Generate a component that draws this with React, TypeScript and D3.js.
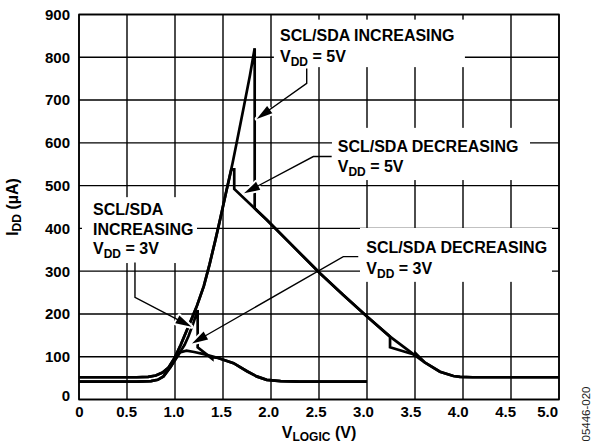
import React from "react";
import * as d3 from "d3";

// ---------- data (V_LOGIC in volts, I_DD in µA) ----------
const X_TICKS = [0, 0.5, 1.0, 1.5, 2.0, 2.5, 3.0, 3.5, 4.0, 4.5, 5.0];
const X_LABELS = ["0", "0.5", "1.0", "1.5", "2.0", "2.5", "3.0", "3.5", "4.0", "4.5", "5.0"];
const Y_TICKS = [0, 100, 200, 300, 400, 500, 600, 700, 800, 900];

const INC_5V: [number, number][] = [
  [0, 52], [0.6, 52], [0.72, 53], [0.8, 56], [0.87, 63], [0.93, 74], [1.0, 99], [1.06, 128],
  [1.12, 160], [1.18, 192], [1.23, 220], [1.3, 265], [1.36, 316], [1.42, 372], [1.47, 421],
  [1.53, 482], [1.6, 553], [1.66, 620], [1.72, 688], [1.78, 757], [1.83, 821],
  [1.83, 447], [1.955, 420], [2.2, 365], [2.51, 295], [2.75, 245], [3.0, 194], [3.24, 147],
  [3.24, 122], [3.505, 104], [3.505, 108], [3.6, 87], [3.76, 65], [3.9, 55], [3.97, 53],
  [4.1, 52], [5.0, 52],
];

const DEC_5V: [number, number][] = [
  [5.0, 52], [4.1, 52], [3.97, 53], [3.9, 55], [3.76, 65], [3.6, 87], [3.5, 103], [3.24, 147],
  [3.0, 194], [2.75, 245], [2.51, 295], [2.2, 365], [1.955, 420], [1.617, 492], [1.617, 538],
  [1.587, 538], [1.53, 482], [1.47, 421], [1.42, 372], [1.36, 316], [1.3, 265], [1.23, 220],
  [1.18, 192], [1.12, 160], [1.06, 128], [1.0, 99], [0.93, 74], [0.87, 63], [0.8, 56], [0.72, 53],
  [0.6, 52], [0, 52],
];

const INC_3V: [number, number][] = [
  [0, 42], [0.6, 42], [0.75, 43], [0.82, 46], [0.88, 54], [0.95, 75], [1.0, 92], [1.05, 110],
  [1.1, 128], [1.14, 148], [1.19, 178], [1.236, 209], [1.236, 122], [1.389, 95], [1.389, 99],
  [1.45, 97], [1.61, 85], [1.75, 66], [1.85, 54], [1.955, 46], [2.1, 43], [2.3, 42], [3.0, 42],
];

const DEC_3V: [number, number][] = [
  [3.0, 42], [2.3, 42], [2.1, 43], [1.955, 46], [1.85, 54], [1.75, 66], [1.61, 85], [1.45, 97],
  [1.3, 106], [1.2, 111], [1.12, 114], [1.05, 110], [1.0, 92], [0.95, 75], [0.88, 54],
  [0.82, 46], [0.75, 43], [0.6, 42], [0, 42],
];

// annotation leader lines (data coords), last point is the arrow tip
const LEADER_INC_5V: [number, number][] = [[2.372, 774], [2.372, 739], [1.851, 656]];
const LEADER_DEC_5V: [number, number][] = [[2.632, 568], [2.441, 568], [1.719, 482]];
const LEADER_DEC_3V: [number, number][] = [[2.909, 334], [2.753, 334], [1.177, 131]];
const LEADER_INC_3V: [number, number][] = [[0.583, 320], [0.583, 239], [1.172, 170]];

// white label backgrounds (data coords: x0, x1, yTop, yBottom)
const BOXES: [number, number, number, number][] = [
  [2.03, 4.02, 888, 777],
  [2.635, 4.698, 635, 513],
  [2.927, 4.927, 401, 275],
  [0.031, 1.229, 473, 319],
];

const W = 593;
const H = 447;
const FONT = "'Liberation Sans', Arial, Helvetica, sans-serif";

export default function App() {
  const x = d3.scaleLinear().domain([0, 5]).range([79, 559]);
  const y = d3.scaleLinear().domain([0, 900]).range([399.5, 14.5]);
  const xl = d3.scaleLinear().domain([0, 5]).range([79.3, 553]);

  const line = d3
    .line<[number, number]>()
    .x((d) => x(d[0]))
    .y((d) => y(d[1]));

  const curves = [INC_5V, DEC_5V, INC_3V, DEC_3V];
  const leaders = [LEADER_INC_5V, LEADER_DEC_5V, LEADER_DEC_3V, LEADER_INC_3V];

  const arrow = (pts: [number, number][], i: number) => {
    const p = pts.map((d) => [x(d[0]), y(d[1])]);
    const tip = p[p.length - 1];
    const prev = p[p.length - 2];
    const dx = tip[0] - prev[0];
    const dy = tip[1] - prev[1];
    const len = Math.hypot(dx, dy);
    const ux = dx / len;
    const uy = dy / len;
    const hl = 16;
    const hw = 4.5;
    const bx = tip[0] - ux * hl;
    const by = tip[1] - uy * hl;
    const poly = [
      [tip[0], tip[1]],
      [bx - uy * hw, by + ux * hw],
      [bx + uy * hw, by - ux * hw],
    ]
      .map((q) => q.join(","))
      .join(" ");
    const lp = p.slice(0, -1).concat([[bx + ux * 2, by + uy * 2]]);
    const d = "M" + lp.map((q) => q.join(",")).join("L");
    return (
      <g key={"a" + i}>
        <polygon points={poly} fill="white" stroke="white" strokeWidth={4} strokeLinejoin="round" />
        <path d={d} fill="none" stroke="#000" strokeWidth={1.4} />
        <polygon points={poly} fill="#000" />
      </g>
    );
  };

  const vdd = (px: number, py: number, val: string) => (
    <text x={px} y={py} fontSize={16}>
      V
      <tspan fontSize={12} dy={4}>
        DD
      </tspan>
      <tspan dy={-4}>{" = " + val}</tspan>
    </text>
  );

  return (
    <svg
      width={W}
      height={H}
      style={{ position: "absolute", left: 0, top: 0, background: "#fff" }}
      fontFamily={FONT}
      fontWeight="bold"
    >
      <rect x={0} y={0} width={W} height={H} fill="#fff" />
      {/* grid */}
      <g stroke="#000" strokeWidth={1.4}>
        {X_TICKS.map((t) => (
          <line key={"gx" + t} x1={x(t)} x2={x(t)} y1={y(0)} y2={y(900)} />
        ))}
        {Y_TICKS.map((t) => (
          <line key={"gy" + t} x1={x(0)} x2={x(5)} y1={y(t)} y2={y(t)} />
        ))}
      </g>
      {/* label backgrounds */}
      {BOXES.map((b, i) => (
        <rect
          key={"b" + i}
          x={x(b[0])}
          y={y(b[2])}
          width={x(b[1]) - x(b[0])}
          height={y(b[3]) - y(b[2])}
          fill="#fff"
        />
      ))}
      {/* frame */}
      <rect
        x={x(0)}
        y={y(900)}
        width={x(5) - x(0)}
        height={y(0) - y(900)}
        fill="none"
        stroke="#000"
        strokeWidth={1.6}
      />
      {/* curves */}
      {curves.map((c, i) => (
        <path
          key={"c" + i}
          d={line(c) || ""}
          fill="none"
          stroke="#000"
          strokeWidth={2.7}
          strokeLinejoin="miter"
          strokeMiterlimit={3}
        />
      ))}
      {/* leaders */}
      {leaders.map((l, i) => arrow(l, i))}
      {/* tick labels */}
      {X_TICKS.map((t, i) => {
        const last = i === X_TICKS.length - 1;
        return (
          <text
            key={"tx" + t}
            x={last ? x(5) - 1 : xl(t)}
            y={417}
            fontSize={15}
            textAnchor={last ? "end" : "middle"}
          >
            {X_LABELS[i]}
          </text>
        );
      })}
      {Y_TICKS.map((t) => (
        <text key={"ty" + t} x={70} y={y(t) + (t === 0 ? -4 : 0)} dy="0.36em" fontSize={15} textAnchor="end">
          {t}
        </text>
      ))}
      {/* axis titles */}
      <text x={x(2.5)} y={437.7} fontSize={16} textAnchor="middle">
        V
        <tspan fontSize={12} dy={3}>
          LOGIC
        </tspan>
        <tspan dy={-3}> (V)</tspan>
      </text>
      <text transform={`translate(18,${(y(0) + y(900)) / 2}) rotate(-90)`} fontSize={16} textAnchor="middle">
        I
        <tspan fontSize={12} dy={3}>
          DD
        </tspan>
        <tspan dy={-3}> (µA)</tspan>
      </text>
      {/* annotations */}
      <text x={x(2.094)} y={y(838)} fontSize={16}>
        SCL/SDA INCREASING
      </text>
      {vdd(x(2.094), y(790), "5V")}
      <text x={x(2.695)} y={y(578.6)} fontSize={16}>
        SCL/SDA DECREASING
      </text>
      {vdd(x(2.695), y(531.8), "5V")}
      <text x={x(2.993)} y={y(341.3)} fontSize={16}>
        SCL/SDA DECREASING
      </text>
      {vdd(x(2.993), y(293.4), "3V")}
      <text x={x(0.146)} y={y(431.3)} fontSize={16}>
        SCL/SDA
      </text>
      <text x={x(0.146)} y={y(385.7)} fontSize={16}>
        INCREASING
      </text>
      {vdd(x(0.146), y(340.1), "3V")}
      {/* figure id */}
      <text
        transform={`translate(590,414) rotate(-90)`}
        fontSize={11.5}
        fontWeight="normal"
        textAnchor="middle"
        fill="#222"
      >
        05446-020
      </text>
    </svg>
  );
}
